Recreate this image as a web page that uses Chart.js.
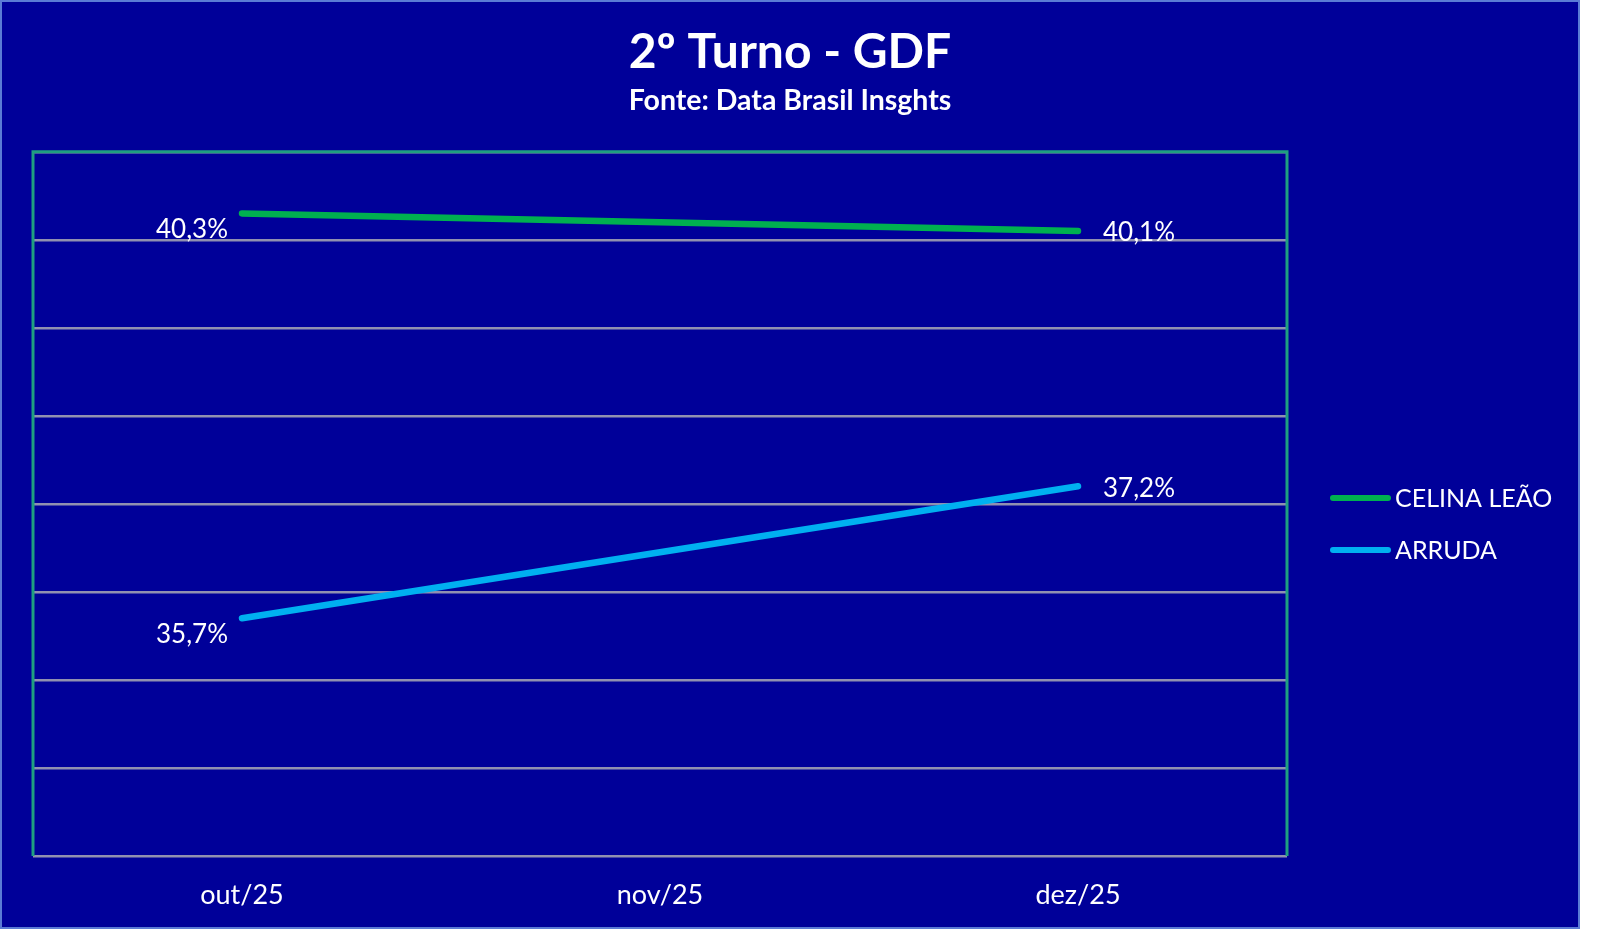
<!DOCTYPE html>
<html>
<head>
<meta charset="utf-8">
<script src="https://cdn.jsdelivr.net/npm/chart.js@4"></script>
<style>
html, body { margin: 0; padding: 0; background: #fff; }
#box { position: absolute; left: 0; top: 0; width: 1576px; height: 925px; border: 2px solid #5b7bd5; background: #000099; }
#lineChart { display: block; }
</style>
</head>
<body>
<div id="box"><canvas id="lineChart" width="1576" height="925" style="width:1576px;height:925px"></canvas></div>
<script>
let categories = ['out/25', 'nov/25', 'dez/25'];
let celina = [40.3, null, 40.1];
let arruda = [35.7, null, 37.2];
let seriesNames = ['CELINA LEÃO', 'ARRUDA'];
let yTicks = [33, 34, 35, 36, 37, 38, 39, 40, 41];

let font = 'Lato';

// % labels next to the end points
let pointLabels = {
    id: 'pointLabels',
    afterDatasetsDraw(c) {
        let ctx = c.ctx;
        ctx.save();
        ctx.font = '26px ' + font;
        ctx.fillStyle = '#fff';
        ctx.textBaseline = 'middle';
        c.data.datasets.forEach((ds, i) => {
            c.getDatasetMeta(i).data.forEach((pt, j) => {
                let v = ds.data[j];
                if (v == null) return;
                let txt = v.toFixed(1).replace('.', ',') + '%';
                if (j == 0) {
                    ctx.textAlign = 'right';
                    ctx.fillText(txt, pt.x - 14, pt.y + 16);
                } else {
                    ctx.textAlign = 'left';
                    ctx.fillText(txt, pt.x + 25, pt.y + 2);
                }
            });
        });
        ctx.restore();
    }
};

// green frame round the plot (bottom stays grey)
let plotFrame = {
    id: 'plotFrame',
    beforeDatasetsDraw(c) {
        let a = c.chartArea, ctx = c.ctx;
        ctx.save();
        ctx.strokeStyle = '#1f9f80';
        ctx.lineWidth = 3;
        ctx.beginPath();
        ctx.moveTo(a.left, a.bottom);
        ctx.lineTo(a.left, a.top);
        ctx.lineTo(a.right, a.top);
        ctx.lineTo(a.right, a.bottom);
        ctx.stroke();
        ctx.restore();
    }
};

// legend on the right
let sideLegend = {
    id: 'sideLegend',
    afterDraw(c) {
        let ctx = c.ctx, a = c.chartArea;
        let x0 = a.right + 43, y0 = 496;
        ctx.save();
        ctx.font = '25px ' + font;
        ctx.textBaseline = 'middle';
        ctx.textAlign = 'left';
        c.data.datasets.forEach((ds, i) => {
            let y = y0 + i * 52;
            ctx.strokeStyle = ds.borderColor;
            ctx.lineWidth = 6;
            ctx.lineCap = 'round';
            ctx.beginPath();
            ctx.moveTo(x0 + 3, y);
            ctx.lineTo(x0 + 58, y);
            ctx.stroke();
            ctx.fillStyle = '#fff';
            ctx.fillText(ds.label, x0 + 65, y + 1);
        });
        ctx.restore();
    }
};

let chart = document.getElementById('lineChart');
let lineChart = new Chart(chart, {
    type: 'line',
    data: {
        labels: categories,
        datasets: [
            {
                label: seriesNames[0],
                data: celina,
                borderColor: '#00b050',
                borderWidth: 6.5,
                borderCapStyle: 'round',
                pointRadius: 0,
                spanGaps: true,
                tension: 0
            },
            {
                label: seriesNames[1],
                data: arruda,
                borderColor: '#00b0f0',
                borderWidth: 6.5,
                borderCapStyle: 'round',
                pointRadius: 0,
                spanGaps: true,
                tension: 0
            }
        ]
    },
    options: {
        responsive: false,
        animation: false,
        layout: { padding: 0 },
        plugins: {
            legend: { display: false },
            tooltip: { enabled: false },
            title: {
                display: true,
                text: '2º Turno - GDF',
                color: '#fff',
                font: { family: font, size: 48, weight: 'bold', lineHeight: 1.2 },
                padding: { top: 22, bottom: 2 }
            },
            subtitle: {
                display: true,
                text: 'Fonte: Data Brasil Insghts',
                color: '#fff',
                font: { family: font, size: 28.5, weight: 'bold', lineHeight: 1.2 },
                padding: { top: 0, bottom: 34 }
            }
        },
        scales: {
            x: {
                offset: true,
                grid: { display: false, drawTicks: false },
                border: { display: false },
                ticks: { color: '#fff', font: { family: font, size: 27 }, padding: 23 },
                afterFit: s => { s.height = 71; }
            },
            y: {
                min: yTicks[0],
                max: yTicks[yTicks.length - 1],
                afterBuildTicks: s => { s.ticks = yTicks.map(v => ({ value: v })); },
                afterFit: s => { s.width = 31; },
                ticks: { display: false },
                border: { display: false },
                grid: { color: '#9090b0', lineWidth: 2.5, drawTicks: false }
            },
            side: {
                type: 'linear',
                position: 'right',
                display: true,
                afterFit: s => { s.width = 291; },
                ticks: { display: false },
                border: { display: false },
                grid: { display: false }
            }
        }
    },
    plugins: [plotFrame, pointLabels, sideLegend]
});
</script>
</body>
</html>
